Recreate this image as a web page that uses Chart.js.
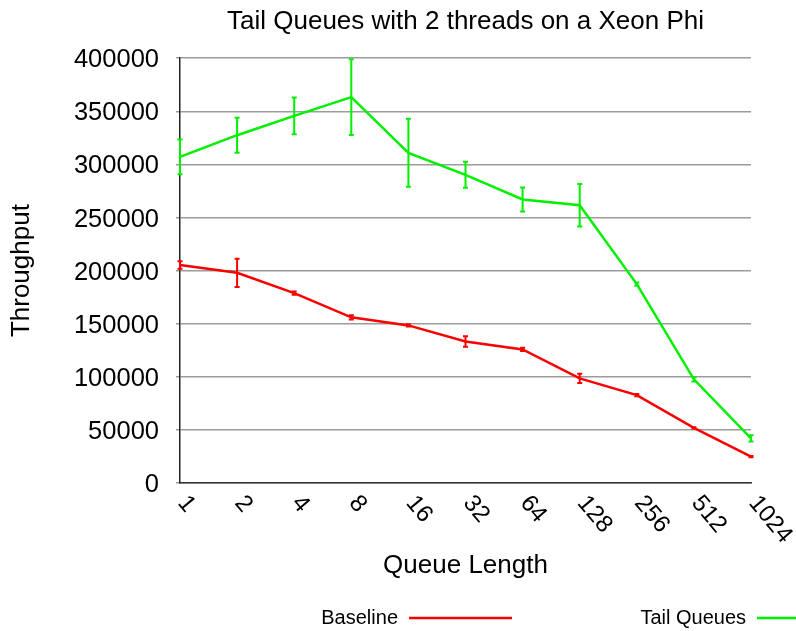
<!DOCTYPE html>
<html>
<head>
<meta charset="utf-8">
<script src="https://cdn.jsdelivr.net/npm/chart.js@4/dist/chart.umd.min.js"></script>
<style>
  html, body { margin: 0; padding: 0; background: #fff; }
</style>
</head>
<body>
<canvas id="chart" width="796" height="631"></canvas>
<script>
// data
const queueLengths = ["1", "2", "4", "8", "16", "32", "64", "128", "256", "512", "1024"];
const baseline = [205200, 197900, 178800, 156000, 148400, 133300, 125800, 98500, 82800, 52000, 24800];
const baselineErr = [3500, 13300, 1500, 2000, 1000, 5000, 1500, 4400, 1000, 600, 600];
const tailQueues = [307100, 327500, 345700, 363300, 310900, 290200, 267000, 261600, 187300, 97600, 42000];
const tailErr = [16300, 16500, 17300, 35600, 32000, 12300, 11300, 20000, 1500, 2000, 3000];
const yTicks = [0, 50000, 100000, 150000, 200000, 250000, 300000, 350000, 400000];

// colors
const red = "rgb(250, 0, 0)";
const green = "rgb(0, 240, 0)";
const fontFamily = "'Liberation Sans', Arial, Helvetica, sans-serif";

// vertical error bars with small caps
const errorBars = {
  id: "errorBars",
  afterDatasetsDraw(chart) {
    const ctx = chart.ctx;
    const y = chart.scales.y;
    chart.data.datasets.forEach((ds, i) => {
      const meta = chart.getDatasetMeta(i);
      ctx.save();
      ctx.strokeStyle = ds.borderColor;
      ctx.lineWidth = 2;
      meta.data.forEach((pt, j) => {
        const v = ds.data[j];
        const e = ds.errors[j];
        const top = y.getPixelForValue(v + e);
        const bot = y.getPixelForValue(v - e);
        ctx.beginPath();
        ctx.moveTo(pt.x, top);
        ctx.lineTo(pt.x, bot);
        ctx.moveTo(pt.x - 2.5, top);
        ctx.lineTo(pt.x + 2.5, top);
        ctx.moveTo(pt.x - 2.5, bot);
        ctx.lineTo(pt.x + 2.5, bot);
        ctx.stroke();
      });
      ctx.restore();
    });
  },
};

// slanted category labels, hanging down-right from each tick
const slantedLabels = {
  id: "slantedLabels",
  afterDraw(chart) {
    const ctx = chart.ctx;
    const x = chart.scales.x;
    ctx.save();
    ctx.font = "24px " + fontFamily;
    ctx.fillStyle = "#000";
    ctx.textAlign = "left";
    ctx.textBaseline = "middle";
    chart.data.labels.forEach((lab, j) => {
      const px = x.getPixelForValue(j);
      ctx.save();
      ctx.translate(px + 2, x.top + 16);
      ctx.rotate((50 * Math.PI) / 180);
      ctx.fillText(lab, 0, 0);
      ctx.restore();
    });
    ctx.restore();
  },
};

// legend: name first, then a line sample
const sideLegend = {
  id: "sideLegend",
  afterDraw(chart, args, opts) {
    const ctx = chart.ctx;
    ctx.save();
    ctx.font = "20px " + fontFamily;
    ctx.fillStyle = "#000";
    ctx.textAlign = "right";
    ctx.textBaseline = "middle";
    chart.data.datasets.forEach((ds, i) => {
      const item = opts.items[i];
      ctx.fillText(ds.label, item.textEnd, opts.y);
      ctx.strokeStyle = ds.borderColor;
      ctx.lineWidth = 2.5;
      ctx.beginPath();
      ctx.moveTo(item.textEnd + 11, opts.y);
      ctx.lineTo(item.textEnd + 114, opts.y);
      ctx.stroke();
    });
    ctx.restore();
  },
};

const chart = new Chart(document.getElementById("chart"), {
  type: "line",
  data: {
    labels: queueLengths,
    datasets: [
      {
        label: "Baseline",
        data: baseline,
        errors: baselineErr,
        borderColor: red,
        backgroundColor: red,
        borderWidth: 2.5,
        pointRadius: 0,
        tension: 0,
        fill: false,
      },
      {
        label: "Tail Queues",
        data: tailQueues,
        errors: tailErr,
        borderColor: green,
        backgroundColor: green,
        borderWidth: 2.5,
        pointRadius: 0,
        tension: 0,
        fill: false,
      },
    ],
  },
  options: {
    responsive: false,
    animation: false,
    layout: {
      padding: { left: 0, right: 45, top: 0, bottom: 40 },
    },
    scales: {
      x: {
        offset: false,
        grid: { display: false, drawTicks: false },
        border: { display: true, color: "#333", width: 1.5 },
        ticks: { display: false },
        title: {
          display: true,
          text: "Queue Length",
          color: "#000",
          font: { family: fontFamily, size: 26 },
          padding: { top: 0, bottom: 10 },
        },
        afterFit: (s) => {
          s.height = 108;
        },
      },
      y: {
        min: 0,
        max: 400000,
        afterBuildTicks: (s) => {
          s.ticks = yTicks.map((v) => ({ value: v }));
        },
        grid: { color: "#9c9c9c", lineWidth: 1.5, tickLength: 4 },
        border: { display: true, color: "#222", width: 1.5 },
        ticks: {
          color: "#000",
          padding: 17,
          labelOffset: 2,
          font: { family: fontFamily, size: 25.5 },
          callback: (v) => String(v),
        },
        title: {
          display: true,
          text: "Throughput",
          color: "#000",
          font: { family: fontFamily, size: 26 },
          padding: { top: 6, bottom: 0 },
        },
        afterFit: (s) => {
          s.width = 180;
        },
      },
    },
    plugins: {
      legend: { display: false },
      tooltip: { enabled: false },
      title: {
        display: true,
        fullSize: false,
        text: "Tail Queues with 2 threads on a Xeon Phi",
        color: "#000",
        font: { family: fontFamily, size: 26, weight: "normal" },
        padding: { top: 6, bottom: 21 },
      },
      sideLegend: {
        y: 618,
        items: [{ textEnd: 398 }, { textEnd: 746 }],
      },
    },
  },
  plugins: [errorBars, slantedLabels, sideLegend],
});
</script>
</body>
</html>
